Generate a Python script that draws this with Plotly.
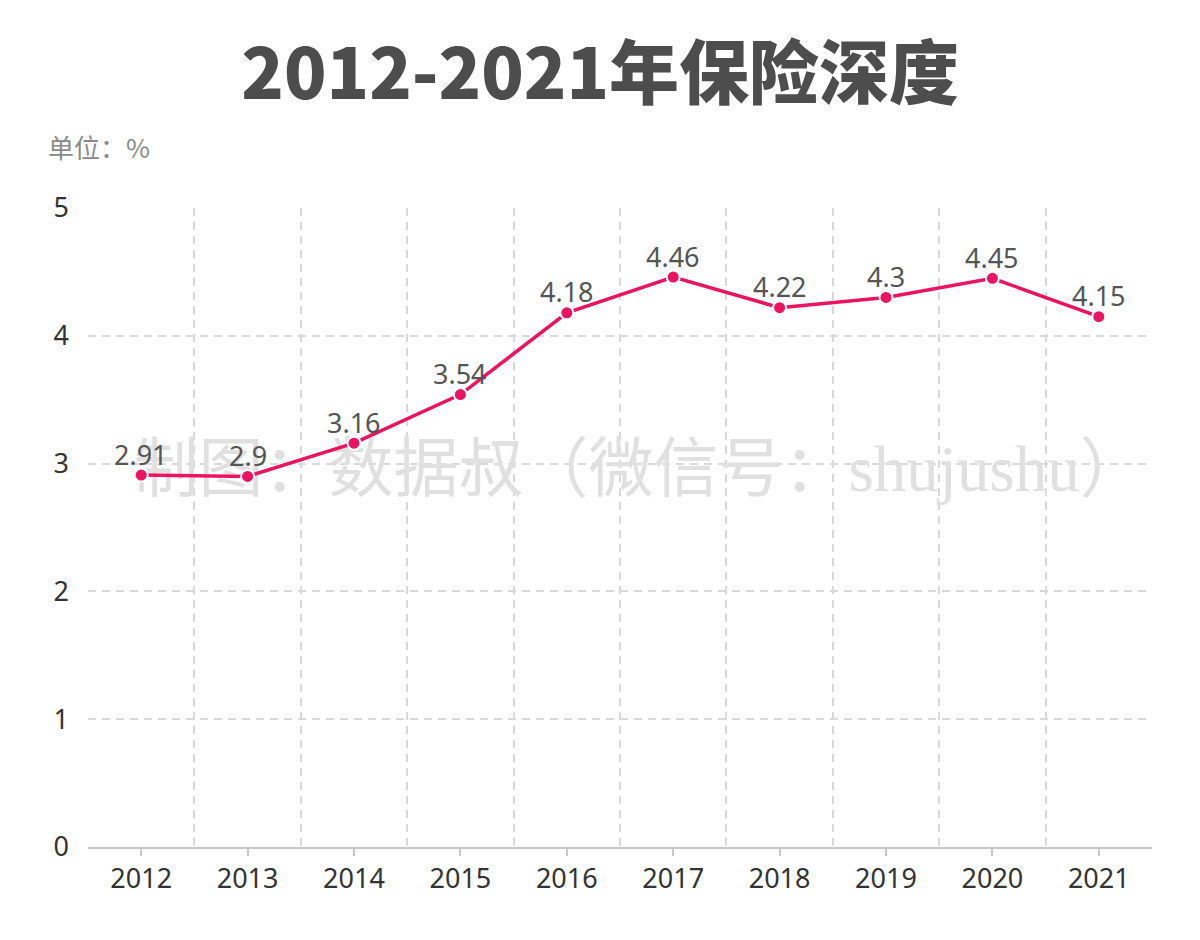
import plotly.graph_objects as go

years = [2012, 2013, 2014, 2015, 2016, 2017, 2018, 2019, 2020, 2021]
depth = [2.91, 2.9, 3.16, 3.54, 4.18, 4.46, 4.22, 4.3, 4.45, 4.15]
y_ticks = [0, 1, 2, 3, 4, 5]
title_text = "2012-2021年保险深度"
unit_text = "单位：%"
watermark_text = "制图：数据叔（微信号：shujushu）"

LINE = "#ec1461"
FONT = "Noto Sans, Noto Sans CJK SC, sans-serif"
CJK = "Noto Sans CJK SC, Noto Sans, sans-serif"
GRID = "#d9d9d9"

fig = go.Figure()

# watermark beneath the line
fig.add_trace(go.Scatter(
    x=[2016.68], y=[2.91], mode="text", text=[watermark_text],
    textfont=dict(family="Liberation Serif, Noto Sans CJK SC, serif", size=65, color="#e0e0e0"),
    hoverinfo="skip", showlegend=False,
))

fig.add_trace(go.Scatter(
    x=years, y=depth, mode="lines+markers",
    line=dict(color=LINE, width=3.5),
    marker=dict(size=13, color=LINE, line=dict(color="white", width=2)),
    showlegend=False,
))

labels = [dict(x=x, y=v, text=str(v), xref="x", yref="y", showarrow=False,
               yshift=21, yanchor="middle", xanchor="center",
               font=dict(family=FONT, size=27, color="#555555"))
          for x, v in zip(years, depth)]

# page body adds 8px offset; margins compensate
fig.update_layout(
    width=1200, height=940,
    paper_bgcolor="white", plot_bgcolor="white",
    margin=dict(l=80, r=56, t=200, b=101),
    font=dict(family=FONT, size=27, color="#333333"),
    title=dict(text=title_text, x=0.4935, xanchor="center",
               y=0.929, yanchor="middle",
               font=dict(family=CJK, size=70, color="#4d4d4d", weight=900)),
    annotations=[dict(text=unit_text, xref="paper", yref="paper", x=-0.0395, y=1.097,
                      xanchor="left", yanchor="middle", showarrow=False,
                      font=dict(family=CJK, size=26, color="#8a8a8a"))] + labels,
)

fig.update_xaxes(
    range=[2011.5, 2021.5], tickvals=years, ticktext=[str(y) for y in years],
    showgrid=False, zeroline=False, automargin=False,
    showline=True, linecolor="#c8c8c8", linewidth=1.5,
    ticks="outside", ticklen=7, tickcolor="#c8c8c8", tickwidth=1.5,
    tickfont=dict(family=FONT, size=27, color="#333333"),
    minor=dict(tickvals=[y + 0.5 for y in years[:-1]], showgrid=True,
               gridcolor=GRID, griddash="8px,6px", gridwidth=1.5, ticks=""),
    fixedrange=True,
)
fig.update_yaxes(
    range=[0, 5], tickvals=y_ticks, showgrid=True,
    gridcolor=GRID, griddash="8px,6px", gridwidth=1.5, automargin=False,
    zeroline=False, showline=False, ticks="", ticklabelstandoff=18,
    tickfont=dict(family=FONT, size=27, color="#333333"),
    fixedrange=True,
)

fig.write_html("out.html")
